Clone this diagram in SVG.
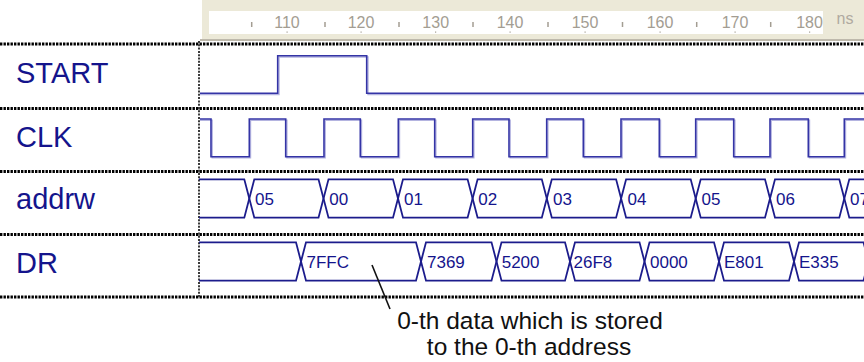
<svg xmlns="http://www.w3.org/2000/svg" width="864" height="362" viewBox="0 0 864 362">
<style>
.ruler-num{font-family:"Liberation Sans",Arial,sans-serif;font-size:16px;fill:#a39d92;text-anchor:middle}
.tick{stroke:#a39d92;stroke-width:1.5}
.sig{font-family:"Liberation Sans",Arial,sans-serif;font-size:29px;fill:#14148c}
.val{font-family:"Liberation Sans",Arial,sans-serif;font-size:17px;fill:#14148c}
.wave{fill:none;stroke:#3434a6;stroke-width:1.6}
.shadow{fill:none;stroke:#b4b4e0;stroke-width:1.4}
.bus{fill:none;stroke:#1c1c8c;stroke-width:1.8;stroke-linejoin:miter}
.sep{stroke:#000;stroke-width:2.8;stroke-dasharray:2.4 1.1}
.vsep{stroke:#3a3a3a;stroke-width:2;stroke-dasharray:2 1.3}
.note{font-family:"Liberation Sans",Arial,sans-serif;font-size:24.5px;fill:#111;text-anchor:middle}
</style>
<rect width="864" height="362" fill="#fff"/>
<g id="ruler">
<rect x="202" y="0" width="662" height="39" fill="#ece9d8"/>
<rect x="209" y="11" width="614" height="23" fill="#fff"/>
<line x1="200" y1="40" x2="864" y2="40" stroke="#a8a290" stroke-width="1.5"/>
<g class="tick">
<line x1="251.7" y1="22" x2="251.7" y2="27"/>
<line x1="325" y1="22" x2="325" y2="27"/>
<line x1="399" y1="22" x2="399" y2="27"/>
<line x1="473" y1="22" x2="473" y2="27"/>
<line x1="548" y1="22" x2="548" y2="27"/>
<line x1="622.5" y1="22" x2="622.5" y2="27"/>
<line x1="696.7" y1="22" x2="696.7" y2="27"/>
<line x1="770.7" y1="22" x2="770.7" y2="27"/>
</g>
<g class="ruler-num">
<text x="287" y="27.5">110</text>
<text x="361" y="27.5">120</text>
<text x="435.7" y="27.5">130</text>
<text x="510" y="27.5">140</text>
<text x="585" y="27.5">150</text>
<text x="660" y="27.5">160</text>
<text x="735" y="27.5">170</text>
<text x="809.5" y="27.5">180</text>
</g>
<g fill="#a39d92">
<rect x="286.5" y="31.5" width="1.2" height="1.2"/>
<rect x="360.5" y="31.5" width="1.2" height="1.2"/>
<rect x="435" y="31.5" width="1.2" height="1.2"/>
<rect x="509.5" y="31.5" width="1.2" height="1.2"/>
<rect x="584.5" y="31.5" width="1.2" height="1.2"/>
<rect x="659.5" y="31.5" width="1.2" height="1.2"/>
<rect x="734.5" y="31.5" width="1.2" height="1.2"/>
<rect x="809" y="31.5" width="1.2" height="1.2"/>
</g>
<text x="845" y="24" class="ruler-num" style="font-size:16px;fill:#b0aaa0">ns</text>
</g>
<g id="grid">
<line class="sep" x1="0" y1="44" x2="864" y2="44"/>
<line class="sep" x1="0" y1="108.5" x2="864" y2="108.5"/>
<line class="sep" x1="0" y1="171.5" x2="864" y2="171.5"/>
<line class="sep" x1="0" y1="234.5" x2="864" y2="234.5"/>
<line class="sep" x1="0" y1="297" x2="864" y2="297"/>
<line class="vsep" x1="199" y1="41" x2="199" y2="297"/>
</g>
<g id="START">
<text class="sig" x="16" y="82.5">START</text>
<path class="shadow" d="M200,94.5 H279 V57 H368 V94.5 H864"/>
<path class="wave" d="M200,93.3 H277.7 V55.7 H366.7 V93.3 H864"/>
</g>
<g id="CLK">
<text class="sig" x="16" y="146.5">CLK</text>
<path class="shadow" d="M200,120.2 H212.2 V157.9 H250.5 V120.2 H286.9 V157.9 H325.2 V120.2 H361.5 V157.9 H399.5 V120.2 H435.9 V157.9 H473.9 V120.2 H510.2 V157.9 H547.9 V120.2 H584.5 V157.9 H622.2 V120.2 H660.5 V157.9 H696.9 V120.2 H734.9 V157.9 H771.2 V120.2 H809.5 V157.9 H845.5 V120.2 H864"/>
<path class="wave" d="M200,119 H211 V156.7 H249.3 V119 H285.7 V156.7 H324 V119 H360.3 V156.7 H398.3 V119 H434.7 V156.7 H472.7 V119 H509 V156.7 H546.7 V119 H583.3 V156.7 H621 V119 H659.3 V156.7 H695.7 V119 H733.7 V156.7 H770 V119 H808.3 V156.7 H844.3 V119 H864"/>
</g>
<g id="addrw">
<text class="sig" x="16" y="209">addrw</text>
<path class="bus" d="M199,179.3 H244.3 L249.3,198.5 L244.3,217.7 H199"/>
<path class="bus" d="M249.3,198.5 L254.3,179.3 H318.5 L323.5,198.5 L318.5,217.7 H254.3 Z"/>
<path class="bus" d="M323.5,198.5 L328.5,179.3 H393 L398,198.5 L393,217.7 H328.5 Z"/>
<path class="bus" d="M398,198.5 L403,179.3 H467.6 L472.6,198.5 L467.6,217.7 H403 Z"/>
<path class="bus" d="M472.6,198.5 L477.6,179.3 H541.8 L546.8,198.5 L541.8,217.7 H477.6 Z"/>
<path class="bus" d="M546.8,198.5 L551.8,179.3 H616.1 L621.1,198.5 L616.1,217.7 H551.8 Z"/>
<path class="bus" d="M621.1,198.5 L626.1,179.3 H690.7 L695.7,198.5 L690.7,217.7 H626.1 Z"/>
<path class="bus" d="M695.7,198.5 L700.7,179.3 H765 L770,198.5 L765,217.7 H700.7 Z"/>
<path class="bus" d="M770,198.5 L775,179.3 H839.3 L844.3,198.5 L839.3,217.7 H775 Z"/>
<path class="bus" d="M870,179.3 H849.3 L844.3,198.5 L849.3,217.7 H870"/>
<g class="val">
<text x="255" y="204.5">05</text>
<text x="329.3" y="204.5">00</text>
<text x="404" y="204.5">01</text>
<text x="478.3" y="204.5">02</text>
<text x="553" y="204.5">03</text>
<text x="627.5" y="204.5">04</text>
<text x="701.5" y="204.5">05</text>
<text x="776" y="204.5">06</text>
<text x="850" y="204.5">07</text>
</g>
</g>
<g id="DR">
<text class="sig" x="16" y="272.5">DR</text>
<path class="bus" d="M199,242.3 H296 L301,261.5 L296,280.7 H199"/>
<path class="bus" d="M301,261.5 L306,242.3 H416 L421,261.5 L416,280.7 H306 Z"/>
<path class="bus" d="M421,261.5 L426,242.3 H491.5 L496.5,261.5 L491.5,280.7 H426 Z"/>
<path class="bus" d="M496.5,261.5 L501.5,242.3 H565 L570,261.5 L565,280.7 H501.5 Z"/>
<path class="bus" d="M570,261.5 L575,242.3 H639.5 L644.5,261.5 L639.5,280.7 H575 Z"/>
<path class="bus" d="M644.5,261.5 L649.5,242.3 H714 L719,261.5 L714,280.7 H649.5 Z"/>
<path class="bus" d="M719,261.5 L724,242.3 H789 L794,261.5 L789,280.7 H724 Z"/>
<path class="bus" d="M794,261.5 L799,242.3 H863.5 L868.5,261.5 L863.5,280.7 H799 Z"/>
<g class="val">
<text x="306.5" y="267.5">7FFC</text>
<text x="427" y="267.5">7369</text>
<text x="501.7" y="267.5">5200</text>
<text x="573.5" y="267.5">26F8</text>
<text x="650" y="267.5">0000</text>
<text x="724" y="267.5">E801</text>
<text x="799" y="267.5">E335</text>
</g>
</g>
<g id="connectors">
<line x1="372" y1="265" x2="390" y2="309" stroke="#111" stroke-width="1.6"/>
</g>
<g id="annotation">
<text class="note" x="530" y="328.5">0-th data which is stored</text>
<text class="note" x="529" y="355">to the 0-th address</text>
</g>
</svg>
